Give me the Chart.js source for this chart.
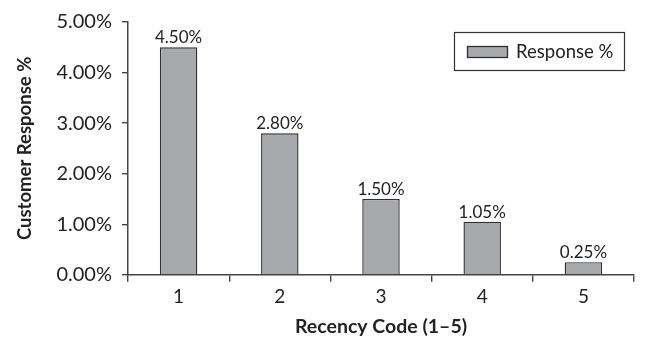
<!DOCTYPE html>
<html>
<head>
<meta charset="utf-8">
<script src="https://cdn.jsdelivr.net/npm/chart.js@4/dist/chart.umd.min.js"></script>
<style>
  html, body { margin: 0; padding: 0; background: #fff; }
  #wrap { width: 646px; height: 341px; }
</style>
</head>
<body>
<div id="wrap"><canvas id="c"></canvas></div>
<script>
// Recency codes and their response rates (percent)
const recencyCodes = ['1', '2', '3', '4', '5'];
const responsePct = [4.50, 2.80, 1.50, 1.05, 0.25];
const yTicks = [0, 1, 2, 3, 4, 5];

const FONT = 'Lato, "Open Sans", sans-serif';
const INK = '#222';
const AXIS = '#444';

// Value labels drawn above each bar
const valueLabels = {
  id: 'valueLabels',
  afterDatasetsDraw(chart) {
    const ctx = chart.ctx;
    const meta = chart.getDatasetMeta(0);
    const values = chart.data.datasets[0].data;
    ctx.save();
    ctx.font = '17px ' + FONT;
    ctx.fillStyle = INK;
    ctx.textAlign = 'center';
    ctx.textBaseline = 'bottom';
    meta.data.forEach((bar, i) => {
      ctx.fillText(values[i].toFixed(2) + '%', bar.x, bar.y - 1);
    });
    ctx.restore();
  }
};

// Boxed legend placed inside the plot area, upper right
const boxedLegend = {
  id: 'boxedLegend',
  afterDraw(chart) {
    const ctx = chart.ctx;
    const ds = chart.data.datasets[0];
    const x0 = 454, y0 = 32, w = 170, h = 38;
    ctx.save();
    ctx.strokeStyle = '#333';
    ctx.lineWidth = 1.2;
    ctx.strokeRect(x0 + 0.5, y0 + 0.5, w, h);
    ctx.fillStyle = ds.backgroundColor;
    ctx.fillRect(467, 46, 40, 11);
    ctx.strokeStyle = ds.borderColor;
    ctx.lineWidth = 1.3;
    ctx.strokeRect(467.5, 46.5, 40, 11);
    ctx.font = '18.5px ' + FONT;
    ctx.fillStyle = INK;
    ctx.textAlign = 'left';
    ctx.textBaseline = 'middle';
    ctx.fillText(ds.label, 516, 52);
    ctx.restore();
  }
};

new Chart(document.getElementById('c'), {
  type: 'bar',
  data: {
    labels: recencyCodes,
    datasets: [{
      label: 'Response %',
      data: responsePct,
      backgroundColor: '#a8a9ad',
      borderColor: '#2e2e2e',
      borderWidth: 1.4,
      barPercentage: 0.37,
      categoryPercentage: 1.0
    }]
  },
  options: {
    responsive: true,
    maintainAspectRatio: false,
    animation: false,
    devicePixelRatio: 1,
    layout: { padding: { top: 8, right: 12, left: 14, bottom: 3 } },
    plugins: {
      legend: { display: false },
      tooltip: { enabled: false }
    },
    scales: {
      x: {
        offset: true,
        grid: {
          offset: true,
          drawOnChartArea: false,
          drawTicks: true,
          tickLength: 7,
          color: AXIS,
          lineWidth: 1.4
        },
        border: { color: AXIS, width: 1.5 },
        ticks: {
          color: INK,
          font: { family: FONT, size: 19 },
          padding: 4
        },
        title: {
          display: true,
          text: 'Recency Code (1–5)',
          color: INK,
          font: { family: FONT, size: 19.5, weight: 'bold' },
          padding: { top: 2, bottom: 0 }
        }
      },
      y: {
        min: 0,
        max: 5,
        afterBuildTicks(scale) {
          scale.ticks = yTicks.map(v => ({ value: v }));
        },
        afterFit(scale) { scale.width = 114; },
        grid: {
          drawOnChartArea: false,
          drawTicks: true,
          tickLength: 6,
          color: AXIS,
          lineWidth: 1.4
        },
        border: { color: AXIS, width: 1.5 },
        ticks: {
          color: INK,
          font: { family: FONT, size: 20 },
          padding: 10,
          callback: v => Number(v).toFixed(2) + '%'
        },
        title: {
          display: true,
          text: 'Customer Response %',
          color: INK,
          font: { family: FONT, size: 18.5, weight: 'bold' },
          padding: { top: 0, bottom: 4 }
        }
      }
    }
  },
  plugins: [valueLabels, boxedLegend]
});
</script>
</body>
</html>
